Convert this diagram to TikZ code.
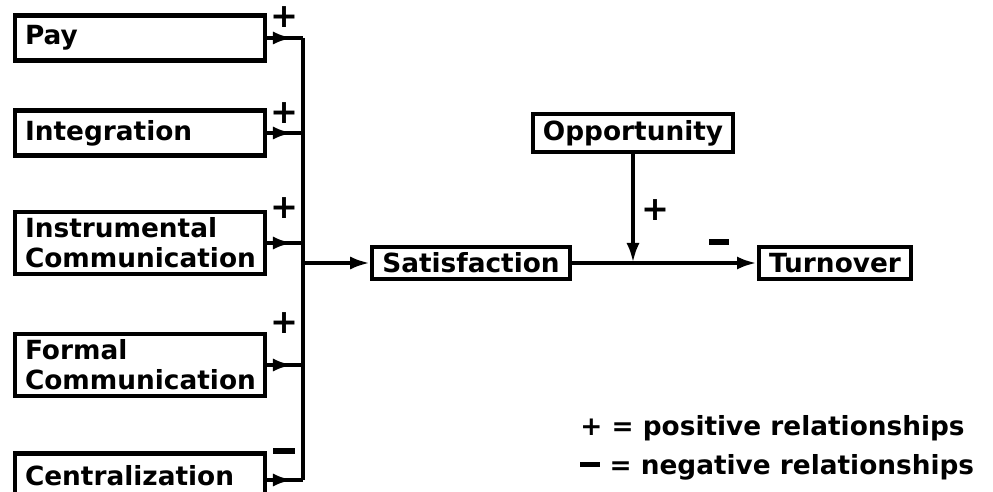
\documentclass[tikz,border=0pt]{standalone}
\usepackage{fontspec}
\setmainfont{DejaVu Sans}
\usetikzlibrary{positioning}
\usetikzlibrary{calc}
\usetikzlibrary{arrows.meta}
\usetikzlibrary{decorations.markings}

\begin{document}
\begin{tikzpicture}[x=0.02cm, y=-0.02cm,
    VAR/.style={rectangle, draw=black, line width=2.4pt, align=left, inner xsep=0.2cm, inner ysep=0.12cm, font=\fontsize{15}{17}\selectfont\bfseries},
    INVAR/.style={VAR, text width=4.6cm, minimum height=0.9cm},
    LINK/.style={line width=2.4pt, black},
    ARR/.style={LINK, -{Latex[length=4mm, width=2.6mm]}},
    MIDARR/.style={LINK, postaction={decorate}, decoration={markings, mark=at position 0.72 with {\arrow{Latex[length=4mm, width=2.6mm]}}}},
    SIGN/.style={font=\fontsize{19}{19}\selectfont\bfseries, inner sep=0pt}]

    \useasboundingbox (0,0) rectangle (993,492);

    % antecedents
    \node[INVAR] (pay) at (140,38) {Pay};
    \node[INVAR] (int) at (140,133) {Integration};
    \node[INVAR] (ins) at (140,243) {Instrumental\\Communication};
    \node[INVAR] (frm) at (140,365) {Formal\\Communication};
    \node[INVAR] (cen) at (140,476) {Centralization};

    % collecting line
    \coordinate (bustop) at (303,38);
    \coordinate (busbot) at (303,480);
    \coordinate (busmid) at (303,263);
    \draw[LINK] (bustop) -- (busbot);

    \draw[MIDARR] (pay.east) -- (pay.east -| bustop);
    \draw[MIDARR] (int.east) -- (int.east -| bustop);
    \draw[MIDARR] (ins.east) -- (ins.east -| bustop);
    \draw[MIDARR] (frm.east) -- (frm.east -| bustop);
    \draw[MIDARR] (cen.east |- busbot) -- (busbot);

    \node[SIGN] at (284,17) {+};
    \node[SIGN] at (284,113) {+};
    \node[SIGN] at (284,208) {+};
    \node[SIGN] at (284,323) {+};
    \node[SIGN] at (284,451) {\rule{0.44cm}{3pt}};

    % outcome chain
    \node[VAR] (sat) at (471,263) {Satisfaction};
    \node[VAR] (opp) at (633,133) {Opportunity};
    \node[VAR] (trn) at (835,263) {Turnover};
    \coordinate (join) at (opp.south |- sat.east);

    \draw[ARR] (busmid) -- (sat.west);
    \draw[ARR] (sat.east) -- (trn.west);
    \draw[ARR] (opp.south) -- (join);

    \node[SIGN] at (655,210) {+};
    \node[SIGN] at (719,242) {\rule{0.4cm}{3pt}};

    % legend
    \node[anchor=west, font=\fontsize{15}{17}\selectfont\bfseries, inner sep=0pt] (legpos) at (580,428) {+ = positive relationships};
    \node[anchor=west, font=\fontsize{15}{17}\selectfont\bfseries, inner sep=0pt] (legneg) at (580,467) {\rule[0.5ex]{0.4cm}{3pt} = negative relationships};
\end{tikzpicture}
\end{document}
